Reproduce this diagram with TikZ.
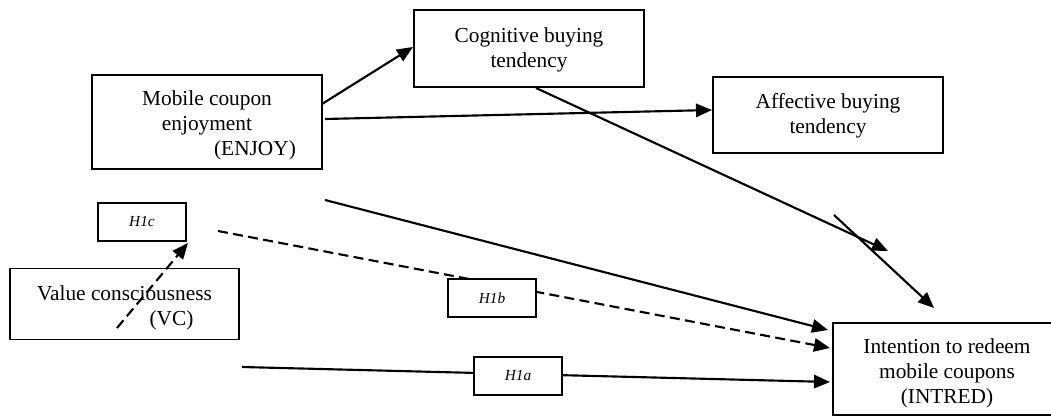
\documentclass[tikz,border=0pt]{standalone}
\usepackage{fontspec}
\setmainfont{Liberation Serif}
\usetikzlibrary{arrows.meta}
\newcommand\mystrut[1]{\rule{0pt}{#1}}
\begin{document}
\begin{tikzpicture}[x=0.75pt,y=-0.75pt,
  box/.style={draw,line width=1.3pt,rectangle,inner sep=0pt,align=center,
    font=\fontsize{16}{18.75}\selectfont},
  hbox/.style={draw,line width=1.3pt,rectangle,inner sep=0pt,fill=white,
    minimum width=66pt,minimum height=28.5pt,font=\fontsize{11.5}{13}\selectfont\itshape},
  conn/.style={line width=1.6pt,-{Triangle[length=12pt,width=10pt]}},
  dconn/.style={conn,dash pattern=on 7.5pt off 4pt}]
\useasboundingbox (0,0) rectangle (1051,416);
% main boxes
\node[box,minimum width=172.5pt,minimum height=70.5pt] (enjoy) at (207,122)
  {\mystrut{16.5pt}Mobile coupon\\enjoyment\\\hspace*{72pt}(ENJOY)};
\node[box,minimum width=172.5pt,minimum height=57.75pt] (cog) at (529,48.5)
  {\mystrut{13.2pt}Cognitive buying\\tendency};
\node[box,minimum width=172.5pt,minimum height=57pt] (aff) at (828,115)
  {\mystrut{12.5pt}Affective buying\\tendency};
\node[box,minimum width=171.75pt,minimum height=53.25pt] (vc) at (124.5,304)
  {\mystrut{17pt}Value consciousness\\\hspace*{70.5pt}(VC)};
\node[box,minimum width=171pt,minimum height=69pt] (intred) at (947,369)
  {\mystrut{17pt}Intention to redeem\\mobile coupons\\(INTRED)};
\node[hbox] (h1c) at (142,222) {H1c};
% connector end points
\coordinate (e1) at (322,104);  \coordinate (c1) at (413,47);
\coordinate (e2) at (325,119);  \coordinate (a1) at (712,110);
\coordinate (c2) at (536,88);   \coordinate (i1) at (888,251);
\coordinate (f1) at (834,215);  \coordinate (i2) at (934,308);
\coordinate (e3) at (325,200);  \coordinate (i3) at (828,330);
\coordinate (d1) at (218,231);  \coordinate (i4) at (830,348);
\coordinate (v1) at (117,328);  \coordinate (t1) at (188,243);
\coordinate (l1) at (242,367);  \coordinate (i5) at (830,382);
% connectors
\draw[conn] (e1) -- (c1);
\draw[conn] (e2) -- (a1);
\draw[conn] (c2) -- (i1);
\draw[conn] (f1) -- (i2);
\draw[conn] (e3) -- (i3);
\draw[dconn] (d1) -- (i4);
\draw[dconn] (v1) -- (t1);
\draw[conn] (l1) -- (i5);
% hypothesis labels on top
\node[hbox] (h1b) at (492,298) {H1b};
\node[hbox] (h1a) at (518,376) {H1a};
\end{tikzpicture}
\end{document}
